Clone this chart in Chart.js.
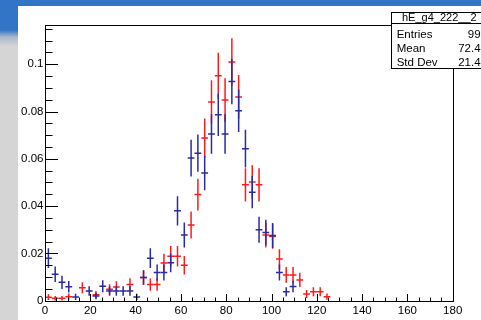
<!DOCTYPE html>
<html>
<head>
<meta charset="utf-8">
<script src="https://cdn.jsdelivr.net/npm/chart.js@4.4.1/dist/chart.umd.min.js"></script>
<style>
  html, body { margin: 0; padding: 0; }
  body { width: 481px; height: 320px; overflow: hidden; position: relative; background: #d5d5d5; }
  #topBand { position: absolute; left: 0; top: 0; width: 481px; height: 6px; background: #3274c6; }
  #sideBand { position: absolute; left: 0; top: 6px; width: 18px; height: 40px;
    background: linear-gradient(#3274c6 0px, #3274c6 24px, #a9b8cc 31px, #d5d5d5 40px); }
  #plot { position: absolute; left: 18px; top: 6px; background: #fff; }
</style>
</head>
<body>
<div id="topBand"></div>
<div id="sideBand"></div>
<canvas id="plot" width="463" height="314"></canvas>
<script>
// histogram bins (width 3)
const binWidth = 3;
const binCenters = [1.5, 4.5, 7.5, 10.5, 13.5, 16.5, 19.5, 22.5, 25.5, 28.5,
    31.5, 34.5, 37.5, 40.5, 43.5, 46.5, 49.5, 52.5, 55.5, 58.5,
    61.5, 64.5, 67.5, 70.5, 73.5, 76.5, 79.5, 82.5, 85.5, 88.5,
    91.5, 94.5, 97.5, 100.5, 103.5, 106.5, 109.5, 112.5, 115.5, 118.5,
    121.5, 124.5];

const redValues = [0.0015, 0.001, 0.001, 0.0017, null, 0.0055, null, 0.0025, null, 0.0048,
    0.0058, null, 0.0069, null, 0.0098, 0.0068, 0.0068, 0.0159, 0.0188, 0.0188,
    0.015, 0.032, 0.0449, 0.0688, 0.084, 0.0951, 0.0849, 0.101, 0.0862, 0.049,
    0.0502, 0.049, 0.0278, 0.0272, 0.0176, 0.0109, 0.0109, 0.0088, 0.0028, 0.0038,
    0.0038, 0.0017];
const redErrors = [0.0012, 0.001, 0.001, 0.0013, null, 0.0023, null, 0.0016, null, 0.0022,
    0.0024, null, 0.0026, null, 0.0031, 0.0026, 0.0026, 0.004, 0.0043, 0.0043,
    0.0039, 0.0057, 0.0067, 0.0083, 0.0092, 0.0098, 0.0092, 0.01, 0.0093, 0.007,
    0.0071, 0.007, 0.0053, 0.0052, 0.0042, 0.0033, 0.0033, 0.003, 0.0017, 0.0019,
    0.0019, 0.0013];

const blueValues = [0.018, 0.0112, 0.0078, 0.0059, 0.0016, null, 0.0041, 0.002, 0.0061, 0.0041,
    0.0041, 0.0041, 0.0041, 0.0016, 0.0098, 0.018, 0.0119, 0.0119, 0.016, 0.038,
    0.0278, 0.0603, 0.0624, 0.054, 0.0705, 0.0786, 0.0705, 0.0927, 0.0803, 0.0643,
    0.0459, 0.030, 0.0288, 0.0276, 0.0119, 0.0038, 0.006, null, null, null,
    null, null];
const blueErrors = [0.0042, 0.0033, 0.0028, 0.0024, 0.0013, null, 0.002, 0.0014, 0.0025, 0.002,
    0.002, 0.002, 0.002, 0.0013, 0.0031, 0.0042, 0.0034, 0.0034, 0.004, 0.0062,
    0.0053, 0.0078, 0.0079, 0.0073, 0.0084, 0.0089, 0.0084, 0.0096, 0.009, 0.008,
    0.0068, 0.0055, 0.0054, 0.0053, 0.0034, 0.0019, 0.0024, null, null, null,
    null, null];

const xTickValues = [0, 20, 40, 60, 80, 100, 120, 140, 160, 180];
const yTickValues = [0, 0.02, 0.04, 0.06, 0.08, 0.1];
const yTickLabels = ['0', '0.02', '0.04', '0.06', '0.08', '0.1'];
const xMinorStep = 5;
const yMinorStep = 0.005;

const statsTitle = 'hE_g4_222__2';
const statsLabels = ['Entries', 'Mean', 'Std Dev'];
const statsValues = ['999', '72.43', '21.43'];

const FONT = '"Liberation Sans", Arial, Helvetica, sans-serif';

function toPoints(values, errors) {
    return binCenters
        .map((x, i) => ({ x: x, y: values[i], err: errors[i] }))
        .filter(p => p.y !== null);
}

// ROOT style markers: bin-wide horizontal line plus vertical error bar
const errorBars = {
    id: 'errorBars',
    afterDatasetsDraw(chart) {
        const ctx = chart.ctx, xs = chart.scales.x, ys = chart.scales.y, a = chart.chartArea;
        ctx.save();
        ctx.beginPath();
        ctx.rect(a.left, a.top, a.right - a.left, a.bottom - a.top);
        ctx.clip();
        chart.data.datasets.forEach(ds => {
            ctx.strokeStyle = ds.borderColor;
            ctx.lineWidth = 1.5;
            ds.data.forEach(p => {
                const px = xs.getPixelForValue(p.x);
                const py = ys.getPixelForValue(p.y);
                ctx.beginPath();
                ctx.moveTo(xs.getPixelForValue(p.x - binWidth / 2), py);
                ctx.lineTo(xs.getPixelForValue(p.x + binWidth / 2), py);
                ctx.moveTo(px, ys.getPixelForValue(p.y - p.err));
                ctx.lineTo(px, ys.getPixelForValue(p.y + p.err));
                ctx.stroke();
            });
        });
        ctx.restore();
    }
};

// frame with inward major/minor ticks
const frame = {
    id: 'frame',
    afterDraw(chart) {
        const ctx = chart.ctx, xs = chart.scales.x, ys = chart.scales.y, a = chart.chartArea;
        const L = Math.round(a.left) + 0.5, R = Math.round(a.right) + 0.5;
        const T = Math.round(a.top) + 0.5, B = Math.round(a.bottom) + 0.5;
        ctx.save();
        ctx.strokeStyle = '#000';
        ctx.lineWidth = 1;
        ctx.strokeRect(L, T, R - L, B - T);
        ctx.beginPath();
        for (let v = xs.min; v <= xs.max + 1e-9; v += xMinorStep) {
            const px = Math.round(xs.getPixelForValue(v)) + 0.5;
            const len = xTickValues.includes(Math.round(v)) ? 7.5 : 4;
            ctx.moveTo(px, B);
            ctx.lineTo(px, B - len);
        }
        for (let k = 0; k * yMinorStep <= ys.max + 1e-9; k++) {
            const v = k * yMinorStep;
            const py = Math.round(ys.getPixelForValue(v)) + 0.5;
            const len = k % 4 === 0 ? 12.5 : 7;
            ctx.moveTo(L, py);
            ctx.lineTo(L + len, py);
        }
        ctx.stroke();

        // stats box, running off the right edge like the original
        const bx = 373.5, by = 6.5, bw = 120, bh = 56;
        ctx.fillStyle = '#fff';
        ctx.fillRect(bx, by, bw, bh);
        ctx.strokeRect(bx, by, bw, bh);
        ctx.beginPath();
        ctx.moveTo(bx, 17.5);
        ctx.lineTo(bx + bw, 17.5);
        ctx.stroke();
        ctx.fillStyle = '#000';
        ctx.font = '11px ' + FONT;
        ctx.textBaseline = 'alphabetic';
        ctx.textAlign = 'left';
        ctx.fillText(statsTitle, 384, 15);
        ctx.font = '11.5px ' + FONT;
        ctx.textBaseline = 'middle';
        statsLabels.forEach((lab, i) => {
            ctx.textAlign = 'left';
            ctx.fillText(lab, 378.7, 28.5 + i * 14);
            ctx.textAlign = 'right';
            ctx.fillText(statsValues[i], 469, 28.5 + i * 14);
        });
        ctx.restore();
    }
};

new Chart(document.getElementById('plot'), {
    type: 'scatter',
    data: {
        datasets: [
            { label: 'red', data: toPoints(redValues, redErrors), borderColor: '#ff1a1a', pointRadius: 0, showLine: false },
            { label: 'blue', data: toPoints(blueValues, blueErrors), borderColor: '#2a2aa2', pointRadius: 0, showLine: false }
        ]
    },
    options: {
        responsive: false,
        devicePixelRatio: 1,
        animation: false,
        layout: { padding: { left: 0, top: 19, right: 28.3, bottom: 0 } },
        plugins: { legend: { display: false }, tooltip: { enabled: false } },
        scales: {
            x: {
                type: 'linear', min: 0, max: 180,
                grid: { display: false, drawTicks: false },
                border: { display: false },
                afterBuildTicks: s => { s.ticks = xTickValues.map(v => ({ value: v })); },
                afterFit: s => { s.height = 19.3; },
                ticks: { padding: 3, color: '#000', maxRotation: 0, autoSkip: false, font: { family: FONT, size: 11.5 } }
            },
            y: {
                type: 'linear', min: 0, max: 0.1166,
                grid: { display: false, drawTicks: false },
                border: { display: false },
                afterBuildTicks: s => { s.ticks = yTickValues.map(v => ({ value: v })); },
                afterFit: s => { s.width = 27; },
                ticks: {
                    padding: 1.5, color: '#000', autoSkip: false,
                    font: { family: FONT, size: 11.5 },
                    callback: (v, i) => yTickLabels[i]
                }
            }
        }
    },
    plugins: [errorBars, frame]
});
</script>
</body>
</html>
